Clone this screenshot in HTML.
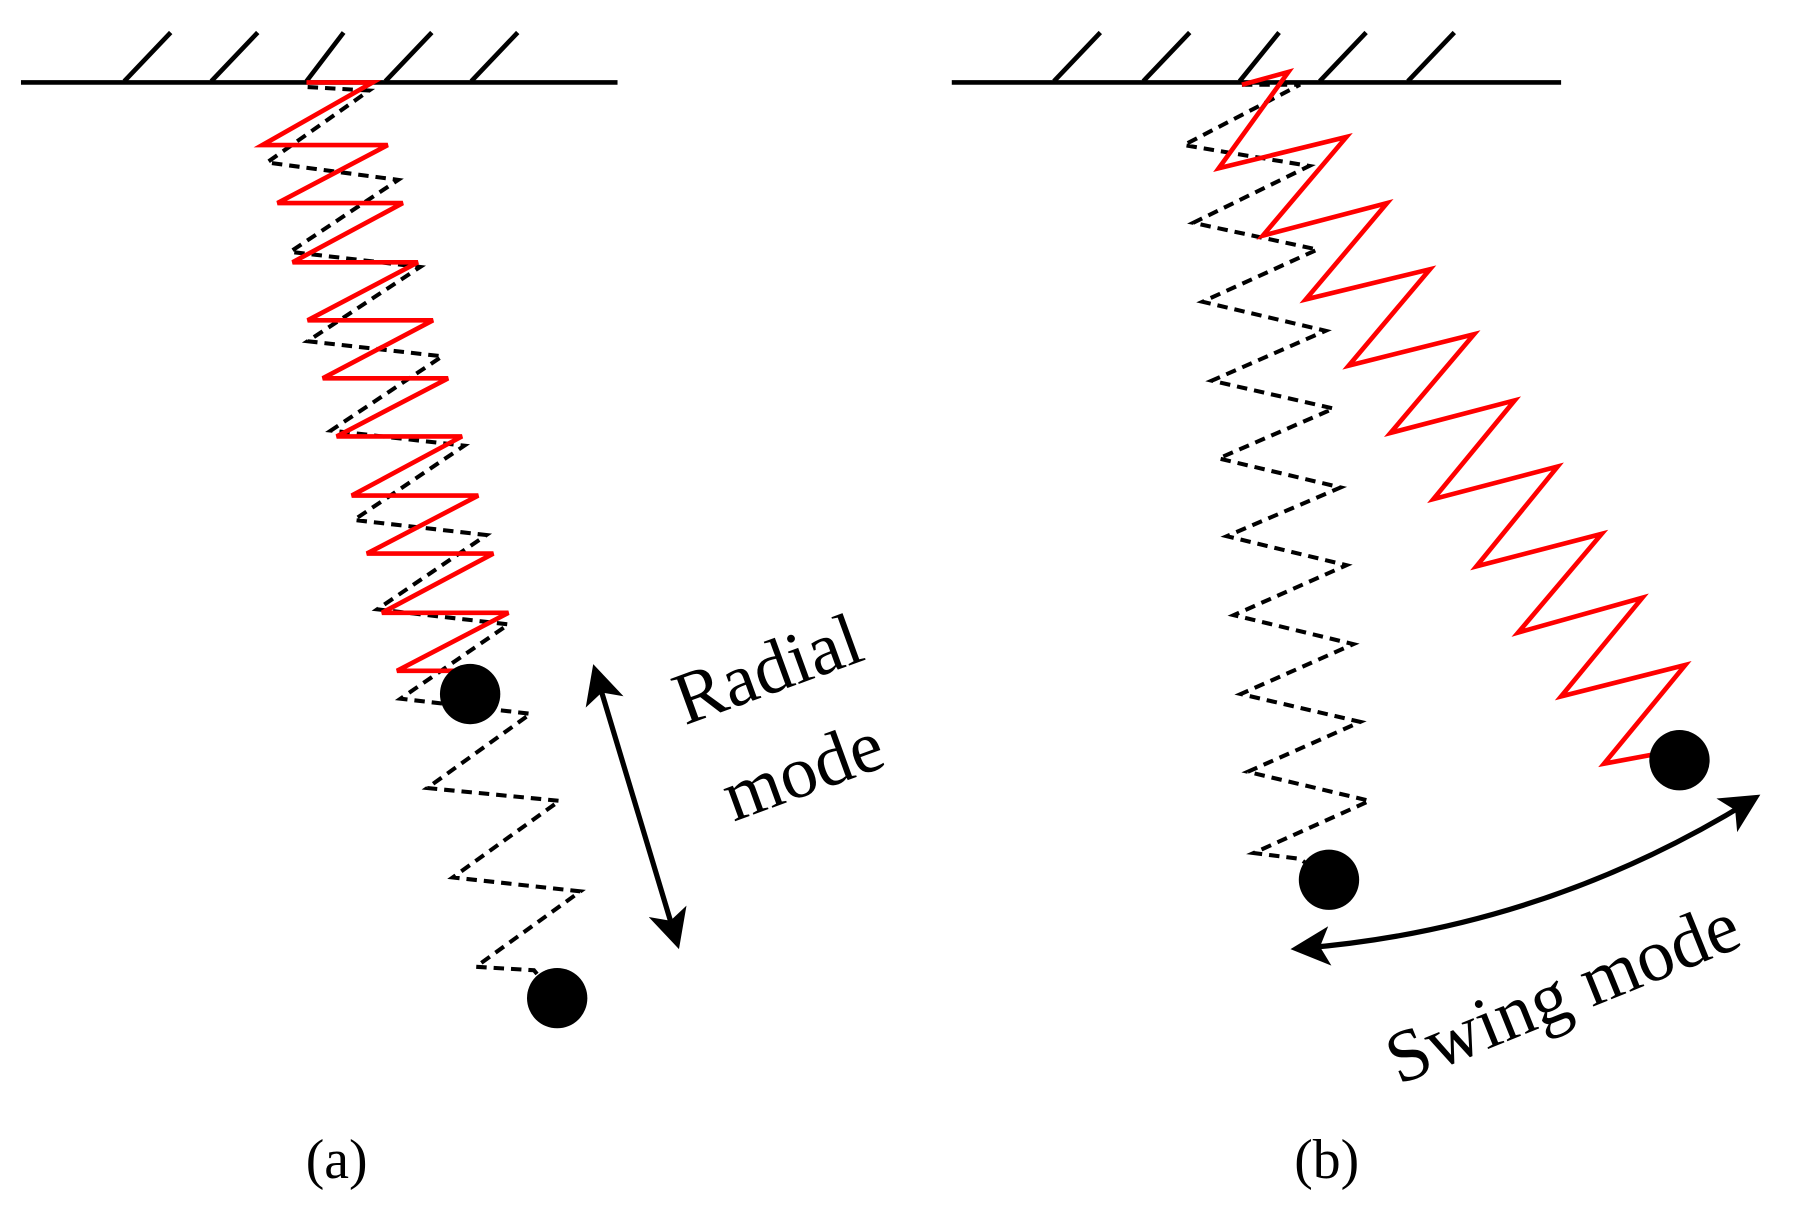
<!DOCTYPE html>
<html><head><style>html,body{margin:0;padding:0;background:#fff}svg{display:block}</style></head><body>
<svg width="1820" height="1214" viewBox="0 0 1568 1046" xmlns="http://www.w3.org/2000/svg">
<defs>
<marker id="ah" viewBox="0 0 10 10" refX="7" refY="5" markerWidth="38" markerHeight="34" markerUnits="userSpaceOnUse" orient="auto-start-reverse"><path d="M0,0 L10,5 L0,10 L2.5,5 z" fill="#000"/></marker>
</defs>
<g stroke="#000" stroke-width="4" fill="none">
<line x1="18" y1="71" x2="532" y2="71"/>
<line x1="107" y1="70" x2="147" y2="28"/>
<line x1="182" y1="70" x2="222" y2="28"/>
<line x1="264" y1="70" x2="296" y2="28"/>
<line x1="332" y1="70" x2="372" y2="28"/>
<line x1="406" y1="70" x2="446" y2="28"/>
<line x1="820" y1="71" x2="1345" y2="71"/>
<line x1="908" y1="70" x2="948" y2="28"/>
<line x1="985" y1="70" x2="1025" y2="28"/>
<line x1="1068" y1="70" x2="1102" y2="28"/>
<line x1="1137" y1="70" x2="1177" y2="28"/>
<line x1="1213" y1="70" x2="1253" y2="28"/>
</g>
<polyline fill="none" stroke="#000" stroke-width="3.5" stroke-dasharray="9,6" points="265,75 318,78 230,140 343,155 250,217 362,230 265,294 381,307 285,371 400,384 305,448 419,461 325,525 438,538 345,602 457,615 368,679 482,690 390,756 500,768 410,833 460,836 480,860"/>
<polyline fill="none" stroke="#f00" stroke-width="4" points="264,71 321,71 226,125 334,125 239,175 347,175 252,226 360,226 265,276 373,276 278,326 386,326 290,376 398,376 303,427 412,427 316,477 425,477 329,528 438,528 342,578 400,578"/>
<circle cx="405" cy="598" r="26" fill="#000"/>
<circle cx="480" cy="860" r="26" fill="#000"/>
<polyline fill="none" stroke="#000" stroke-width="3.5" stroke-dasharray="9,6" points="1070,73 1120,73 1020,125 1128,143 1028,192 1135,215 1036,260 1142,285 1044,328 1149,352 1050,395 1155,420 1057,462 1160,487 1063,530 1166,555 1069,598 1172,622 1075,665 1180,690 1080,735 1120,740 1145,758"/>
<polyline fill="none" stroke="#f00" stroke-width="4" points="1070,73 1110,62 1050,145 1160,118 1088,203 1195,175 1125,258 1232,232 1162,315 1270,288 1198,373 1305,345 1235,430 1342,402 1272,488 1380,460 1308,545 1415,515 1345,600 1452,573 1382,658 1425,650"/>
<circle cx="1447" cy="655" r="26" fill="#000"/>
<circle cx="1145" cy="758" r="26" fill="#000"/>
<line x1="514" y1="582" x2="582" y2="808" stroke="#000" stroke-width="4.5" marker-start="url(#ah)" marker-end="url(#ah)"/>
<path d="M1122,817 Q1330,800 1508,690" fill="none" stroke="#000" stroke-width="4.5" marker-start="url(#ah)" marker-end="url(#ah)"/>
<g font-family="'Liberation Serif', serif" fill="#000">
<text x="0" y="0" font-size="64" transform="translate(590,625) rotate(-20)">Radial</text>
<text x="0" y="0" font-size="64" transform="translate(632,708) rotate(-20)">mode</text>
<text x="0" y="0" font-size="64" transform="translate(1205,935) rotate(-22)">Swing mode</text>
<text x="290" y="1015" font-size="48" text-anchor="middle">(a)</text>
<text x="1143" y="1015" font-size="48" text-anchor="middle">(b)</text>
</g>
</svg>
</body></html>
